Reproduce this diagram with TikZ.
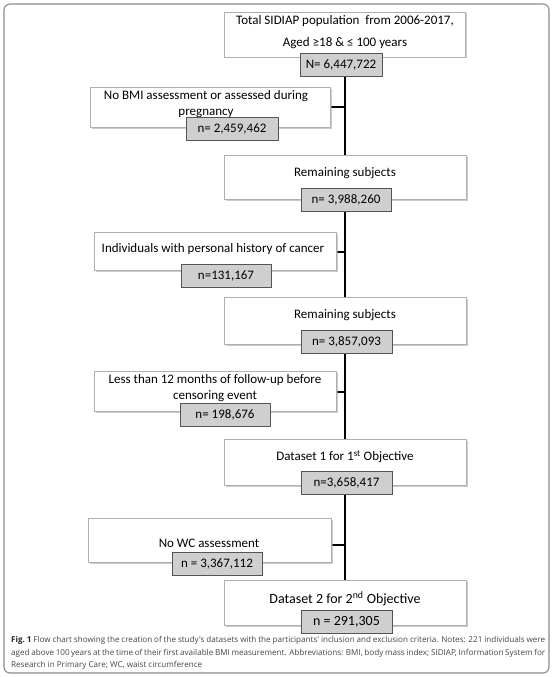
\documentclass[tikz,border=0pt]{standalone}
\usepackage{fontspec}
\setmainfont{Carlito}
\newfontfamily\capfont{Open Sans}
\usetikzlibrary{shadows,backgrounds}
\definecolor{grayfill}{HTML}{CFCFCF}
\definecolor{grayedge}{HTML}{555555}
\definecolor{whiteedge}{HTML}{B0B0B0}
\definecolor{frameedge}{HTML}{8A8A8A}
\definecolor{captext}{HTML}{444444}
\tikzset{
  wbox/.style={draw=whiteedge, fill=white, line width=0.7pt, inner sep=0pt,
    drop shadow={shadow xshift=1.5pt, shadow yshift=-1.5pt, fill=black!35, opacity=0.6}},
  gbox/.style={draw=grayedge, fill=grayfill, line width=0.8pt, inner sep=0pt,
    minimum width=91pt, minimum height=23pt, font=\fontsize{13}{14}\selectfont},
  txt/.style={inner sep=0pt, align=center, font=\fontsize{13}{16}\selectfont},
  spine/.style={line width=2pt, black},
  stub/.style={line width=1.6pt, black}
}
\begin{document}
\begin{tikzpicture}[x=1pt,y=-1pt]
\useasboundingbox (0,0) rectangle (553,677);
\draw[frameedge, line width=1.1pt, rounded corners=6pt] (4,4) rectangle (549,673);

% boxes
\node[wbox, minimum width=241pt, minimum height=45pt] (b1) at (344.5,34.5) {};
\node[wbox, minimum width=240pt, minimum height=40pt] (b2) at (210,107) {};
\node[wbox, minimum width=242pt, minimum height=44pt] (b3) at (345,177) {};
\node[wbox, minimum width=242pt, minimum height=38pt] (b4) at (215,251) {};
\node[wbox, minimum width=242pt, minimum height=47pt] (b5) at (345,320.5) {};
\node[wbox, minimum width=242pt, minimum height=40pt] (b6) at (215,391) {};
\node[wbox, minimum width=242pt, minimum height=46pt] (b7) at (345,462) {};
\node[wbox, minimum width=243pt, minimum height=44pt] (b8) at (209.5,540) {};
\node[wbox, minimum width=242pt, minimum height=45pt] (b9) at (345,602.5) {};

% texts
\node[txt, font=\fontsize{13}{22}\selectfont] (t1) at (345,32) {Total SIDIAP population\ \ from 2006-2017,\\Aged ≥18 \& ≤ 100 years};
\node[txt] (t2) at (206,104) {No BMI assessment or assessed during\\pregnancy};
\node[txt] (t3) at (345,173) {Remaining subjects};
\node[txt] (t4) at (213,249) {Individuals with personal history of cancer};
\node[txt] (t5) at (345,315) {Remaining subjects};
\node[txt] (t6) at (215,388) {Less than 12 months of follow-up before\\censoring event};
\node[txt] (t7) at (345,457) {Dataset 1 for 1\textsuperscript{st} Objective};
\node[txt] (t8) at (209,543) {No WC assessment};
\node[txt, font=\fontsize{14}{16}\selectfont] (t9) at (345,599) {Dataset 2 for 2\textsuperscript{nd} Objective};

% gray count boxes
\node[gbox, minimum width=82pt] (g1) at (341,65) {N= 6,447,722};
\node[gbox, minimum width=92pt] (g2) at (232,129) {n= 2,459,462};
\node[gbox, minimum width=90pt] (g3) at (346,199.5) {n= 3,988,260};
\node[gbox, minimum width=90pt] (g4) at (226,275.5) {n=131,167};
\node[gbox] (g5) at (346.5,341.5) {n= 3,857,093};
\node[gbox, minimum width=90pt] (g6) at (225,415) {n= 198,676};
\node[gbox] (g7) at (346.5,482.5) {n=3,658,417};
\node[gbox, minimum width=90pt] (g8) at (217,564) {n = 3,367,112};
\node[gbox, font=\fontsize{14}{15}\selectfont] (g9) at (346.5,621.5) {n = 291,305};

% spine and stubs, behind the boxes
\begin{scope}[on background layer]
\coordinate (s2) at (345,107);
\coordinate (s4) at (345,252);
\coordinate (s6) at (345,392);
\coordinate (s8) at (345,545);
\draw[spine] (g1.south -| s2) -- (b9.north -| s2);
\draw[stub] (b2.east |- s2) -- (s2);
\draw[stub] (b4.east |- s4) -- (s4);
\draw[stub] (b6.east |- s6) -- (s6);
\draw[stub] (b8.east |- s8) -- (s8);
\end{scope}

% caption
\node[inner sep=0pt, anchor=north west, text width=534pt, align=justify, text=captext,
  font=\capfont\fontsize{8.1}{12.6}\selectfont] (cap) at (11,636)
  {\textbf{\color{black!85}Fig.~1} Flow chart showing the creation of the study's datasets with the participants' inclusion and exclusion criteria. Notes: 221 individuals were\linebreak aged above 100\,years at the time of their first available BMI measurement. Abbreviations: BMI, body mass index; SIDIAP, Information System for\linebreak Research in Primary Care; WC, waist circumference};
\end{tikzpicture}
\end{document}
